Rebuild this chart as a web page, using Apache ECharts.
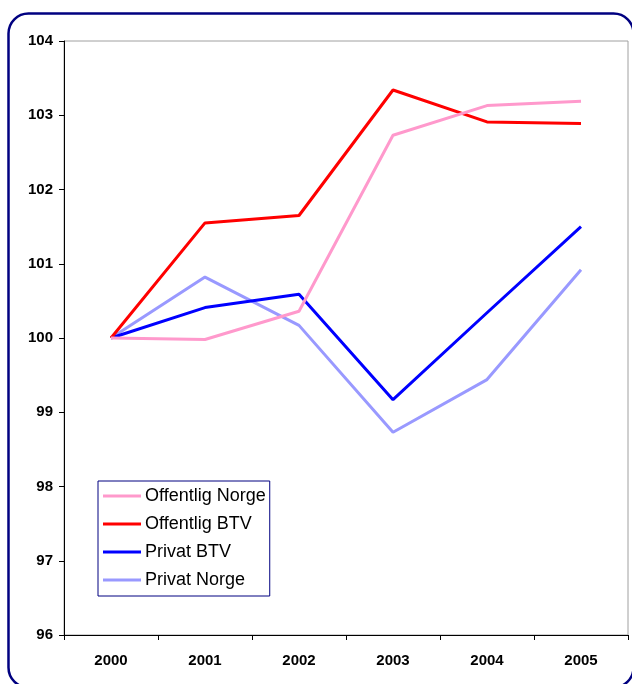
<!DOCTYPE html>
<html>
<head>
<meta charset="utf-8">
<script src="https://cdn.jsdelivr.net/npm/echarts@6/dist/echarts.min.js"></script>
<style>
html,body{margin:0;padding:0;background:#fff;}
#chart{width:632px;height:684px;}
</style>
</head>
<body>
<div id="chart"></div>
<script>
const categories = ['2000', '2001', '2002', '2003', '2004', '2005'];
const offentligNorge = [100, 99.98, 100.36, 102.73, 103.13, 103.19];
const offentligBTV = [100, 101.55, 101.65, 103.34, 102.91, 102.89];
const privatBTV = [100, 100.41, 100.59, 99.17, 100.34, 101.50];
const privatNorge = [100, 100.82, 100.17, 98.73, 99.44, 100.92];
const seriesNames = ['Offentlig Norge', 'Offentlig BTV', 'Privat BTV', 'Privat Norge'];
const seriesColors = ['#FF99CC', '#FF0000', '#0000FF', '#9999FF'];
const seriesData = [offentligNorge, offentligBTV, privatBTV, privatNorge];

const chart = echarts.init(document.getElementById('chart'));
const font = 'Liberation Sans, Arial, sans-serif';
chart.setOption({
  animation: false,
  backgroundColor: '#fff',
  graphic: [{
    type: 'rect',
    shape: { x: 8.5, y: 13.5, width: 625, height: 674, r: 20 },
    style: { fill: 'none', stroke: '#000080', lineWidth: 2.5 },
    z: 100
  }],
  grid: { left: 64, right: 4, top: 41, bottom: 49, show: true, borderColor: '#a0a0a0', borderWidth: 1 },
  xAxis: {
    type: 'category',
    data: categories,
    boundaryGap: true,
    axisLine: { lineStyle: { color: '#000', width: 1 } },
    axisTick: { show: true, interval: 0, length: 5, lineStyle: { color: '#000' } },
    axisLabel: { color: '#000', fontWeight: 'bold', fontSize: 15, fontFamily: font, margin: 18 }
  },
  yAxis: {
    type: 'value',
    min: 96, max: 104, interval: 1,
    axisLine: { show: true, lineStyle: { color: '#000', width: 1 } },
    axisTick: { show: true, length: 5, lineStyle: { color: '#000' } },
    splitLine: { show: false },
    axisLabel: { color: '#000', fontWeight: 'bold', fontSize: 15, fontFamily: font, margin: 11 }
  },
  legend: {
    orient: 'vertical',
    left: 98, top: 481,
    data: seriesNames,
    icon: 'rect',
    itemWidth: 38, itemHeight: 3,
    itemGap: 10,
    padding: [6, 4, 7, 5],
    borderColor: '#000080', borderWidth: 1,
    backgroundColor: '#fff',
    textStyle: { color: '#000', fontSize: 18, fontFamily: font, lineHeight: 18, padding: [0, 0, 0, -1] }
  },
  series: seriesData.map((d, i) => ({
    name: seriesNames[i],
    type: 'line',
    data: d,
    showSymbol: false,
    symbol: 'none',
    lineStyle: { color: seriesColors[i], width: 3 },
    itemStyle: { color: seriesColors[i] },
    z: 2 + (3 - i)
  }))
});
</script>
</body>
</html>
